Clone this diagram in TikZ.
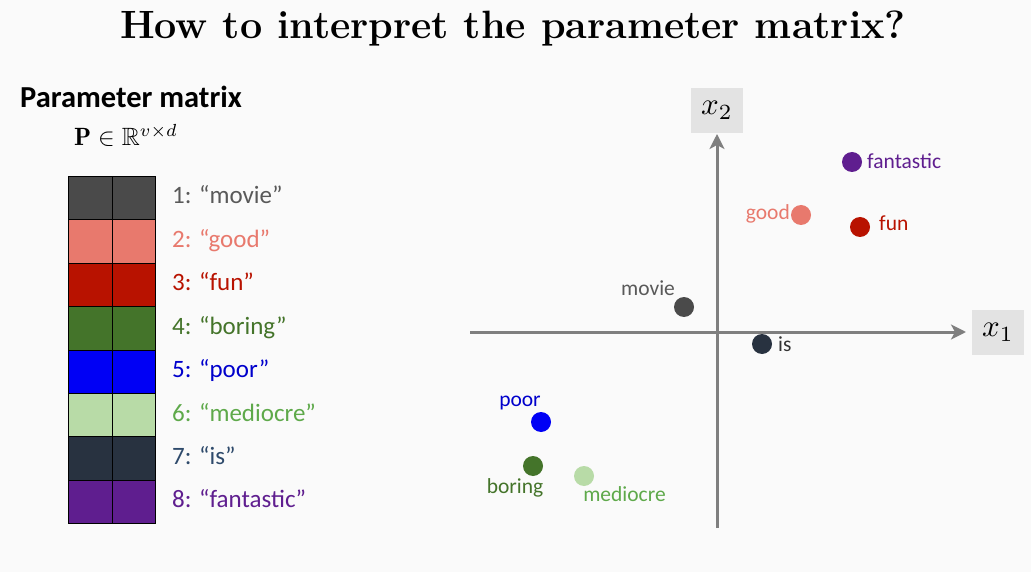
\documentclass[tikz,border=0pt]{standalone}
\usepackage{amsmath,amssymb,graphicx}
\usepackage{fontspec}
\setsansfont{Carlito}
\usetikzlibrary{arrows.meta}
\definecolor{bgc}{HTML}{FAFAFA}
\definecolor{cmovie}{HTML}{4A4A4A}
\definecolor{tmovie}{HTML}{595959}
\definecolor{cgood}{HTML}{E8796D}
\definecolor{cfun}{HTML}{B81200}
\definecolor{cboring}{HTML}{44742A}
\definecolor{cpoor}{HTML}{0000F5}
\definecolor{tpoor}{HTML}{0000CC}
\definecolor{cmed}{HTML}{B8DBA7}
\definecolor{tmed}{HTML}{5EA94A}
\definecolor{cis}{HTML}{283240}
\definecolor{tis}{HTML}{2E4A6B}
\definecolor{cfant}{HTML}{5F1E8F}
\definecolor{axisc}{HTML}{7F7F7F}
\definecolor{boxc}{HTML}{E3E3E3}
\tikzset{
  cell/.style={draw=black, line width=0.8pt, minimum width=43.5pt, minimum height=43.375pt, inner sep=0pt, anchor=north west},
  mlabel/.style={font=\sffamily\fontsize{25}{28}\selectfont, anchor=base west, inner sep=0pt},
  plabel/.style={font=\sffamily\fontsize{21.5}{24}\selectfont, inner sep=0pt},
  dot/.style={circle, fill=#1, minimum size=20pt, inner sep=0pt},
  axis/.style={draw=axisc, line width=3pt, -{Stealth[length=15pt,width=15pt,inset=4pt]}},
  axbox/.style={fill=boxc, minimum width=52pt, minimum height=45pt, inner sep=0pt}
}
\begin{document}
\begin{tikzpicture}[x=1pt,y=-1pt]
\fill[bgc] (0,0) rectangle (1031,572);
\useasboundingbox (0,0) rectangle (1031,572);
% title
\node[anchor=base, inner sep=0pt, font=\bfseries\fontsize{39.5}{44}\selectfont] (title) at (513,39) {How to interpret the parameter matrix?};
% heading
\node[anchor=base west, inner sep=0pt, font=\sffamily\bfseries\fontsize{30.5}{33}\selectfont] (head) at (20,108) {Parameter matrix};
\node[anchor=base west, inner sep=0pt] (math) at (74,146) {\scalebox{2.5}{$\mathbf{P}\in\mathbb{R}^{v\times d}$}};
% matrix
\foreach \i/\c in {1/cmovie,2/cgood,3/cfun,4/cboring,5/cpoor,6/cmed,7/cis,8/cfant}{
  \node[cell, fill=\c] (a\i) at (68,{176+43.375*(\i-1)}) {};
  \node[cell, fill=\c] (b\i) at (111.5,{176+43.375*(\i-1)}) {};
}
\node[mlabel, text=tmovie] (l1) at (172,204) {1: “movie”};
\node[mlabel, text=cgood] (l2) at (172,247.4) {2: “good”};
\node[mlabel, text=cfun] (l3) at (172,290.8) {3: “fun”};
\node[mlabel, text=cboring] (l4) at (172,334.2) {4: “boring”};
\node[mlabel, text=tpoor] (l5) at (172,377.6) {5: “poor”};
\node[mlabel, text=tmed] (l6) at (172,421) {6: “mediocre”};
\node[mlabel, text=tis] (l7) at (172,464.4) {7: “is”};
\node[mlabel, text=cfant] (l8) at (172,507.8) {8: “fantastic”};
% axes
\coordinate (xs) at (470,332);
\coordinate (xe) at (966,332);
\coordinate (ys) at (717,528);
\coordinate (ye) at (717,134);
\draw[axis] (xs) -- (xe);
\draw[axis] (ys) -- (ye);
\node[axbox] (x1) at (998,332.5) {\scalebox{3.1}{$x_1$}};
\node[axbox] (x2) at (717,110.5) {\scalebox{3.1}{$x_2$}};
% points
\node[dot=cfant] (pfant) at (852,162) {};
\node[dot=cgood] (pgood) at (801,215) {};
\node[dot=cfun] (pfun) at (860,227) {};
\node[dot=cmovie] (pmovie) at (684,307) {};
\node[dot=cis] (pis) at (762,344) {};
\node[dot=cpoor] (ppoor) at (541,422) {};
\node[dot=cboring] (pboring) at (533,466) {};
\node[dot=cmed] (pmed) at (584,476) {};
\node[plabel, text=cfant, anchor=base west] (tfant) at (867,169) {fantastic};
\node[plabel, text=cgood, anchor=base east] (tgood) at (790,220) {good};
\node[plabel, text=cfun, anchor=base west] (tfun) at (879,231) {fun};
\node[plabel, text=tmovie, anchor=base] (tmovie) at (648,295) {movie};
\node[plabel, text=black!80, anchor=base west] (tis) at (778,351) {is};
\node[plabel, text=tpoor, anchor=base] (tpoor) at (520,406) {poor};
\node[plabel, text=cboring, anchor=base] (tboring) at (515,493) {boring};
\node[plabel, text=tmed, anchor=base] (tmed) at (624.5,501) {mediocre};
\end{tikzpicture}
\end{document}
